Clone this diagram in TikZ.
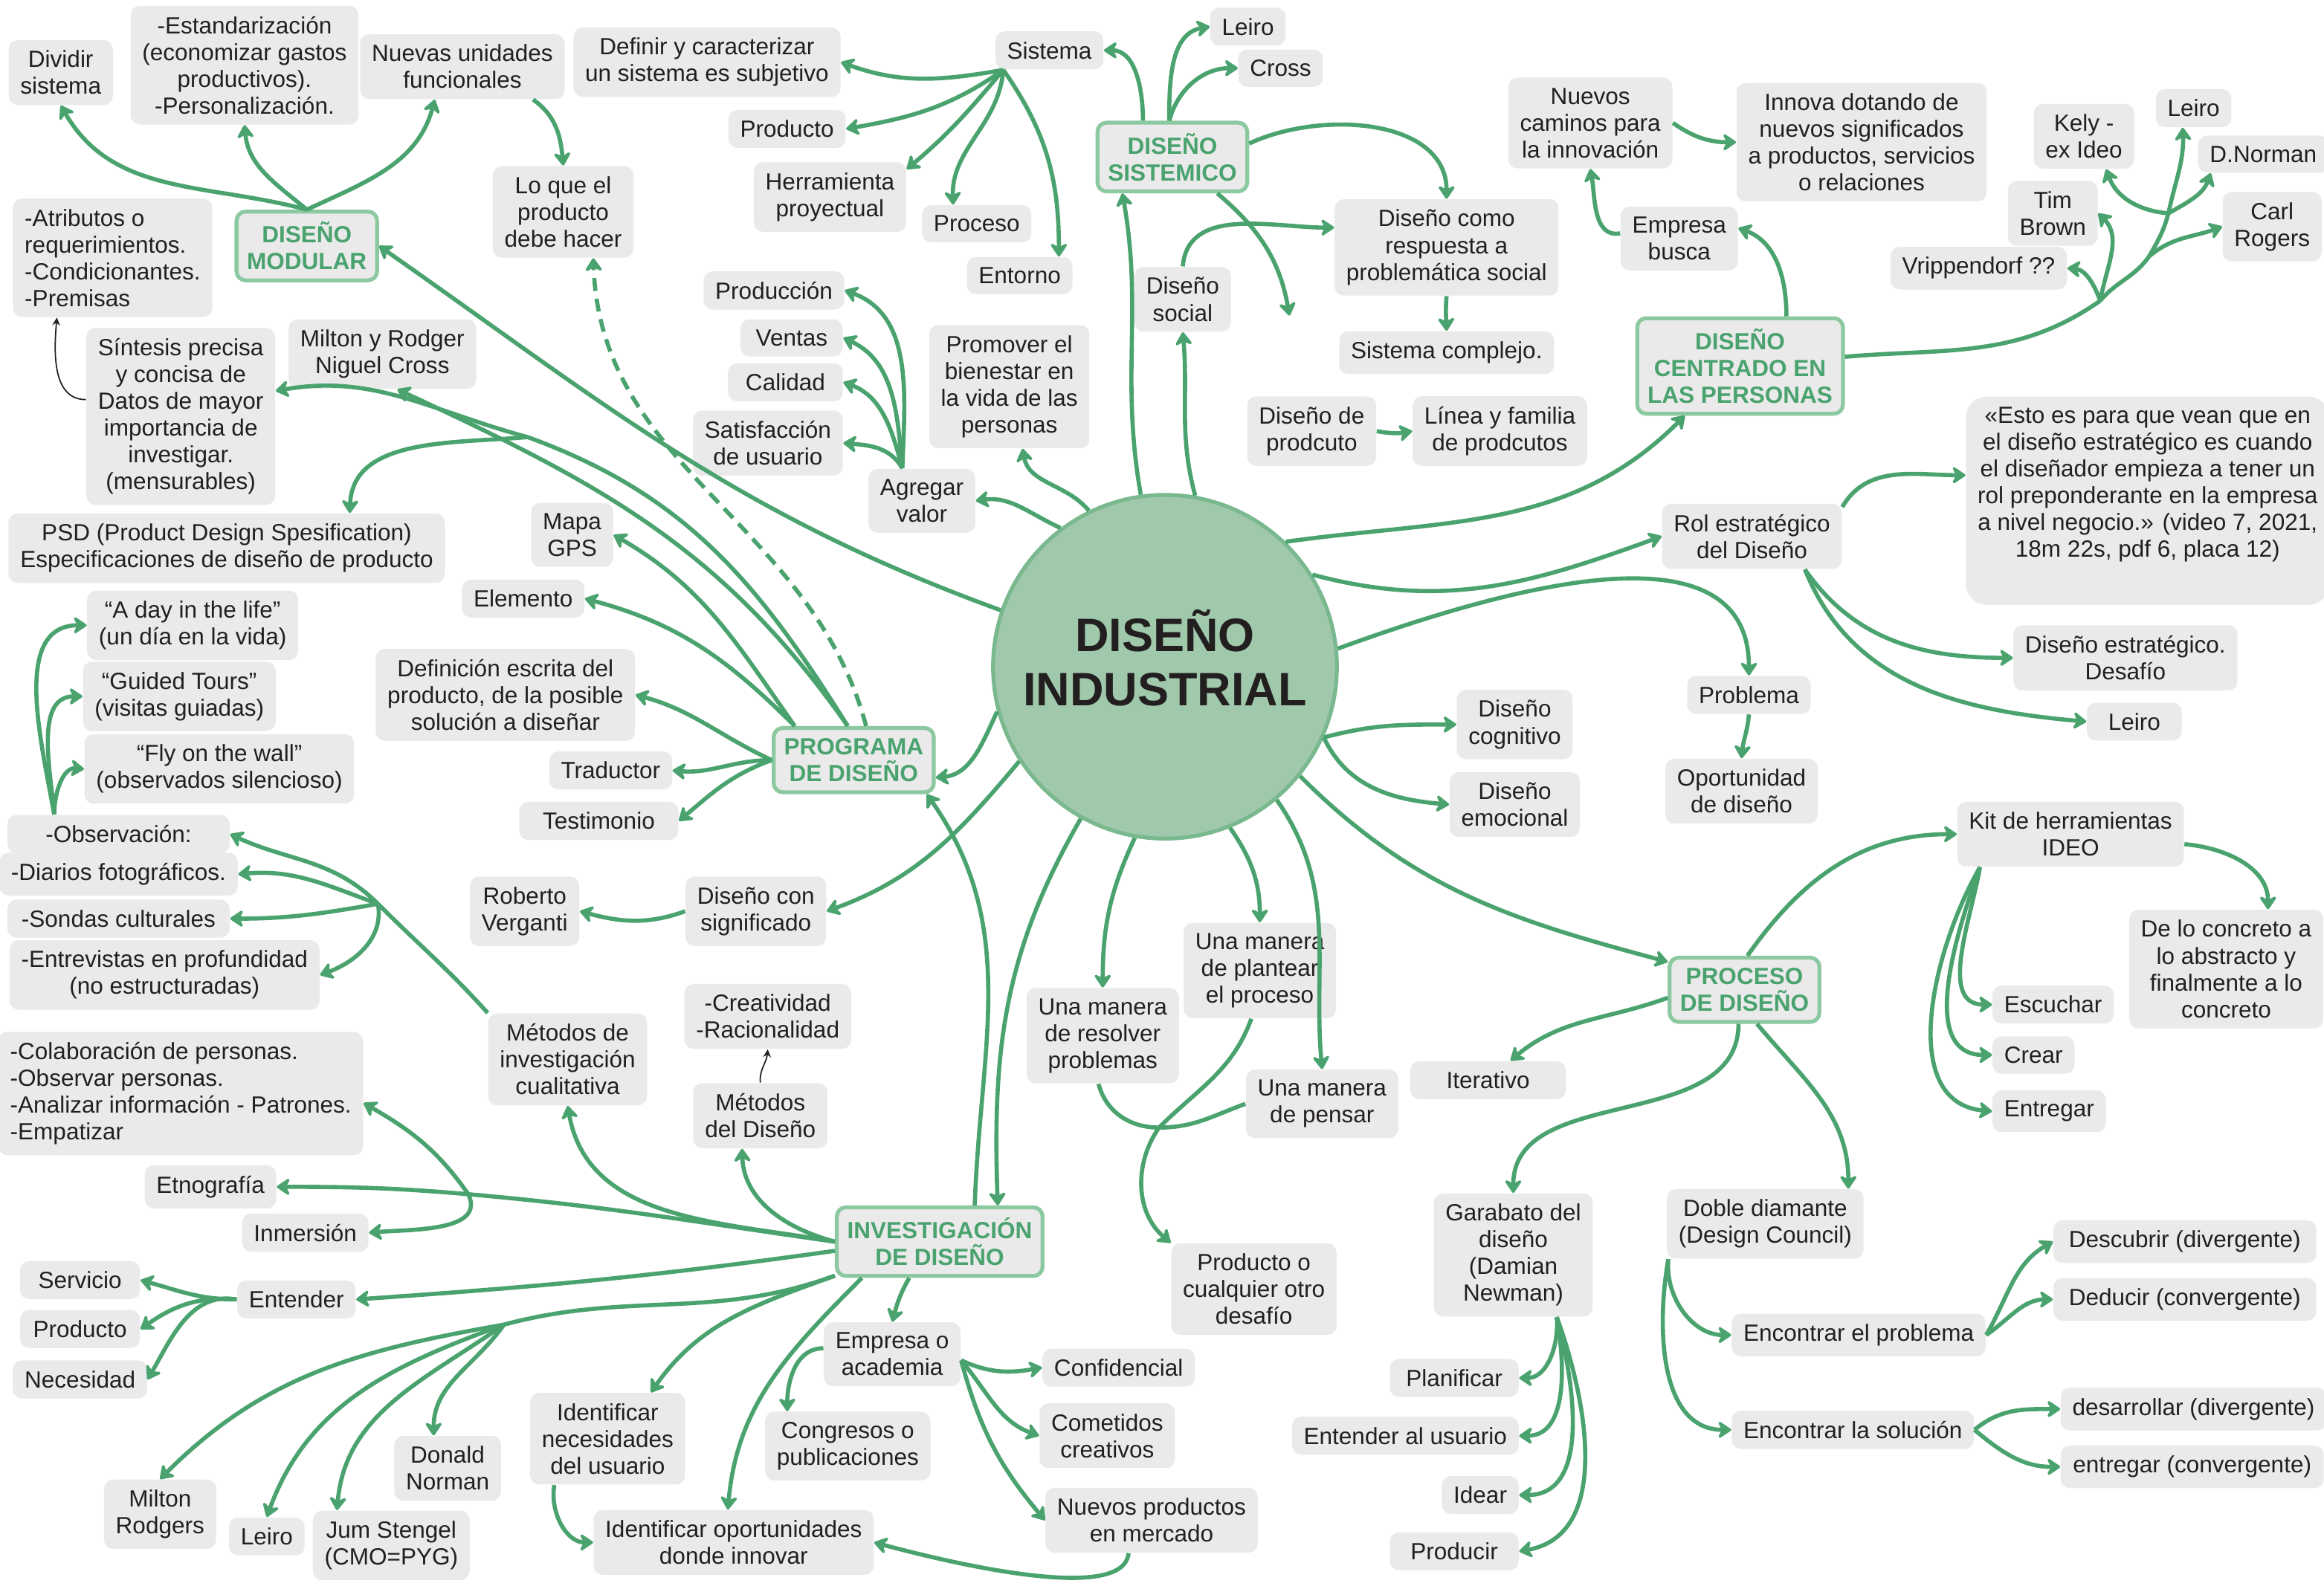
\documentclass[tikz,border=0pt]{standalone}
\usepackage{fontspec}
\setmainfont{Liberation Sans}
\usetikzlibrary{arrows.meta}
\definecolor{leaf}{RGB}{74,163,110}
\definecolor{hub}{RGB}{160,201,172}
\definecolor{hubedge}{RGB}{122,184,142}
\definecolor{card}{RGB}{234,234,235}
\definecolor{cardedge}{RGB}{140,200,160}
\definecolor{ink}{RGB}{35,31,32}

\begin{document}
\begin{tikzpicture}[x=0.02cm, y=0.02cm,
  box/.style={fill=card, text=ink, rounded corners=3.5pt, inner xsep=4.5pt, inner ysep=4pt, align=center, font=\fontsize{9}{10.3}\selectfont},
  cat/.style={box, draw=cardedge, line width=1.5pt, text=leaf, inner xsep=4pt, font=\bfseries\fontsize{9}{10.3}\selectfont},
  lnk/.style={draw=leaf, line width=1.6pt},
  arr/.style={lnk, -{Stealth[length=6pt,width=8pt,inset=2pt,round]}},
  note/.style={draw=ink, line width=0.5pt, -{Stealth[length=3pt,width=3pt]}}]
\useasboundingbox (0,0) rectangle (1568,1072);

\node[circle, fill=hub, draw=hubedge, line width=1.5pt, minimum size=4.64cm, inner sep=0pt] (ci) at (786,622) {};
\node[align=center, text=ink, font=\bfseries\fontsize{18}{21}\selectfont] (citext) at (786,628) {DISEÑO\\INDUSTRIAL};

\node[box] (dividir) at (41,1023) {Dividir\\sistema};
\node[box] (estand) at (165,1028) {-Estandarización\\(economizar gastos\\productivos).\\-Personalización.};
\node[box] (nuevasu) at (312,1027) {Nuevas unidades\\funcionales};
\node[box] (loque) at (380,929) {Lo que el\\producto\\debe hacer};
\node[cat] (dm) at (207,906) {DISEÑO\\MODULAR};
\node[box, align=left] (atrib) at (76,898) {-Atributos o\\requerimientos.\\-Condicionantes.\\-Premisas};
\node[box] (sintesis) at (122,791) {Síntesis precisa\\y concisa de\\Datos de mayor\\importancia de\\investigar.\\(mensurables)};
\node[box] (milton) at (258,833) {Milton y Rodger\\Niguel Cross};
\node[box] (psd) at (153,702) {PSD (Product Design Spesification)\\Especificaciones de diseño de producto};

\node[box] (definir) at (477,1030) {Definir y caracterizar\\un sistema es subjetivo};
\node[box] (sistema) at (708,1038) {Sistema};
\node[box] (producto1) at (531,985) {Producto};
\node[box] (herram) at (560,939) {Herramienta\\proyectual};
\node[box] (proceso) at (659,921) {Proceso};
\node[box] (entorno) at (688,886) {Entorno};
\node[box, anchor=east] (produccion) at (570,876) {Producción};
\node[box, anchor=east, minimum width=1.38cm] (ventas) at (569,844) {Ventas};
\node[box, anchor=east, minimum width=1.55cm] (calidad) at (569,814) {Calidad};
\node[box, anchor=east] (satisf) at (569,773) {Satisfacción\\de usuario};
\node[box] (agregar) at (622,734) {Agregar\\valor};
\node[box] (promover) at (681,811) {Promover el\\bienestar en\\la vida de las\\personas};

\node[cat] (ds) at (791,966) {DISEÑO\\SISTEMICO};
\node[box] (leiro1) at (842,1054) {Leiro};
\node[box] (cross) at (864,1026) {Cross};
\node[box] (dsocial) at (798,870) {Diseño\\social};
\node[box] (dcomo) at (976,905) {Diseño como\\respuesta a\\problemática social};
\node[box] (sistcomp) at (976,834) {Sistema complejo.};
\node[box] (dprod) at (885,781) {Diseño de\\prodcuto};
\node[box] (linea) at (1012,781) {Línea y familia\\de prodcutos};
\node[box] (nuevosc) at (1073,989) {Nuevos\\caminos para\\la innovación};
\node[box] (innova) at (1256,976) {Innova dotando de\\nuevos significados\\a productos, servicios\\o relaciones};
\node[box] (empresab) at (1133,911) {Empresa\\busca};
\node[cat] (dcp) at (1174,825) {DISEÑO\\CENTRADO EN\\LAS PERSONAS};
\node[box] (kely) at (1406,980) {Kely -\\ex Ideo};
\node[box] (leiro2) at (1480,999) {Leiro};
\node[box] (dnorman) at (1527,968) {D.Norman};
\node[box] (timb) at (1385,928) {Tim\\Brown};
\node[box] (carl) at (1533,919) {Carl\\Rogers};
\node[box] (vripp) at (1335,891) {Vrippendorf ??};

\node[box] (rol) at (1182,710) {Rol estratégico\\del Diseño};
\node[box, rounded corners=8pt] (quote) at (1449,734) {«Esto es para que vean que en\\el diseño estratégico es cuando\\el diseñador empieza a tener un\\rol preponderante en la empresa\\a nivel negocio.» (video 7, 2021,\\18m 22s, pdf 6, placa 12)\\[4pt]\mbox{}};
\node[box] (destrat) at (1434,628) {Diseño estratégico.\\Desafío};
\node[box, minimum width=1.28cm] (leiro3) at (1440,585) {Leiro};
\node[box] (problema) at (1180,603) {Problema};
\node[box] (oportun) at (1175,538) {Oportunidad\\de diseño};
\node[box] (dcog) at (1022,583) {Diseño\\cognitivo};
\node[box] (demo) at (1022,529) {Diseño\\emocional};

\node[box] (kit) at (1397,509) {Kit de herramientas\\IDEO};
\node[box] (concreto) at (1502,418) {De lo concreto a\\lo abstracto y\\finalmente a lo\\concreto};
\node[cat] (pdi) at (1177,404) {PROCESO\\DE DISEÑO};
\node[box, anchor=west] (escuchar) at (1344,394) {Escuchar};
\node[box, anchor=west] (crear) at (1344,360) {Crear};
\node[box, anchor=west] (entregar) at (1344,322) {Entregar};
\node[box, minimum width=2.1cm] (iterativo) at (1004,343) {Iterativo};
\node[box] (doble) at (1191,246) {Doble diamante\\(Design Council)};
\node[box] (garabato) at (1021,225) {Garabato del\\diseño\\(Damian\\Newman)};
\node[box, anchor=east, minimum width=1.74cm] (planificar) at (1025,142) {Planificar};
\node[box, anchor=east] (entusu) at (1025,103) {Entender al usuario};
\node[box, anchor=east] (idear) at (1025,63) {Idear};
\node[box, anchor=east, minimum width=1.74cm] (producir) at (1025,25) {Producir};
\node[box, anchor=west] (encprob) at (1168,171) {Encontrar el problema};
\node[box, anchor=west] (encsol) at (1168,107) {Encontrar la solución};
\node[box, anchor=west, minimum width=3.55cm] (descubrir) at (1385,234) {Descubrir (divergente)};
\node[box, anchor=west, minimum width=3.55cm] (deducir) at (1385,195) {Deducir (convergente)};
\node[box, anchor=west, minimum width=3.55cm] (desarr) at (1390,121) {desarrollar (divergente)};
\node[box, anchor=west, minimum width=3.55cm] (entregarc) at (1390,82) {entregar (convergente)};

\node[box] (plantear) at (850,417) {Una manera\\de plantear\\el proceso};
\node[box] (resolver) at (744,373) {Una manera\\de resolver\\problemas};
\node[box] (pensar) at (892,327) {Una manera\\de pensar};
\node[box] (prodcual) at (846,202) {Producto o\\cualquier otro\\desafío};

\node[cat] (pd) at (576,559) {PROGRAMA\\DE DISEÑO};
\node[box] (mapa) at (386,711) {Mapa\\GPS};
\node[box] (elemento) at (353,668) {Elemento};
\node[box] (defesc) at (341,603) {Definición escrita del\\producto, de la posible\\solución a diseñar};
\node[box] (traductor) at (412,552) {Traductor};
\node[box, minimum width=2.15cm] (testim) at (404,518) {Testimonio};
\node[box] (dcs) at (510,457) {Diseño con\\significado};
\node[box] (verganti) at (354,457) {Roberto\\Verganti};

\node[box] (aday) at (130,650) {“A day in the life”\\(un día en la vida)};
\node[box] (guided) at (121,602) {“Guided Tours”\\(visitas guiadas)};
\node[box] (fly) at (148,553) {“Fly on the wall”\\(observados silencioso)};
\node[box, minimum width=3cm] (observ) at (80,509) {-Observación:};
\node[box, minimum width=3cm] (diarios) at (80,482) {-Diarios fotográficos.};
\node[box, minimum width=3cm] (sondas) at (80,452) {-Sondas culturales};
\node[box] (entrev) at (111,414) {-Entrevistas en profundidad\\(no estructuradas)};
\node[box] (metcual) at (383,357) {Métodos de\\investigación\\cualitativa};
\node[box] (creat) at (518,386) {-Creatividad\\-Racionalidad};
\node[box] (metdis) at (513,319) {Métodos\\del Diseño};
\node[box, align=left] (colab) at (122,334) {-Colaboración de personas.\\-Observar personas.\\-Analizar información - Patrones.\\-Empatizar};
\node[box] (etno) at (142,271) {Etnografía};
\node[box] (inmer) at (206,240) {Inmersión};
\node[box, minimum width=1.62cm] (servicio) at (54,208) {Servicio};
\node[box, minimum width=1.62cm] (producto2) at (54,175) {Producto};
\node[box, minimum width=1.62cm] (necesidad) at (54,141) {Necesidad};
\node[box] (entender) at (200,195) {Entender};
\node[cat] (id) at (634,234) {INVESTIGACIÓN\\DE DISEÑO};
\node[box] (miltonr) at (108,50) {Milton\\Rodgers};
\node[box] (leiro4) at (180,35) {Leiro};
\node[box] (jum) at (264,29) {Jum Stengel\\(CMO=PYG)};
\node[box] (donald) at (302,81) {Donald\\Norman};
\node[box] (identnec) at (410,101) {Identificar\\necesidades\\del usuario};
\node[box] (identop) at (495,31) {Identificar oportunidades\\donde innovar};
\node[box] (empresao) at (602,158) {Empresa o\\academia};
\node[box] (congresos) at (572,96) {Congresos o\\publicaciones};
\node[box, anchor=west] (confid) at (703,149) {Confidencial};
\node[box, anchor=west] (cometidos) at (701,103) {Cometidos\\creativos};
\node[box, anchor=west] (nuevosp) at (705,46) {Nuevos productos\\en mercado};

\coordinate (dsend) at (870,859);
\coordinate (fsin) at (356,777);
\coordinate (fppl1) at (1417,869);
\coordinate (fppl2) at (1450,899);
\coordinate (fppl3) at (1463,928);
\coordinate (fobs) at (255,462);
\coordinate (fetn) at (316,266);
\coordinate (fpeople) at (340,178);
\coordinate (fmeet) at (782,311);

\draw[arr] (ci.161) to[out=160,in=-35] (dm.east);
\draw[arr] (dm.north) to[out=165,in=-60] (dividir.south);
\draw[arr] (dm.north) to[out=140,in=-85] (estand.south);
\draw[arr] (dm.north) to[out=25,in=-105] (nuevasu.-130);
\draw[arr] (nuevasu.-25) to[out=-35,in=95] (loque.north);
\draw[arr, dash pattern=on 5pt off 3pt] (pd.70) to[out=105,in=-88] (loque.-57);
\draw[note] (sintesis.170) to[out=180,in=-95] (atrib.-133);

\draw[arr] (ci.195) to[out=245,in=5] (pd.-12);
\draw[arr] (ci.213) to[out=230,in=20] (dcs.east);
\draw[arr] (ci.241) to[out=240,in=92] (id.32);
\draw[arr] (id.46) to[out=88,in=-55] (pd.-25);
\draw[arr] (pd.west) to[out=155,in=-15] (defesc.east);
\draw[arr] (pd.west) to[out=180,in=-5] (traductor.east);
\draw[arr] (pd.west) to[out=200,in=40] (testim.east);
\draw[arr] (pd.150) to[out=125,in=-30] (mapa.east);
\draw[arr] (pd.150) to[out=135,in=-15] (elemento.east);
\draw[arr] (pd.100) to[out=125,in=-25] (milton.-67);
\draw[lnk] (pd.100) to[out=122,in=-20] (fsin);
\draw[arr] (fsin) to[out=165,in=10] (sintesis.15);
\draw[arr] (fsin) to[out=185,in=88] (psd.16);
\draw[arr] (dcs.west) to[out=200,in=-15] (verganti.east);

\draw[arr] (sistema.-157) to[out=190,in=-20] (definir.east);
\draw[arr] (sistema.-157) to[out=215,in=10] (producto1.east);
\draw[arr] (sistema.-157) to[out=230,in=40] (herram.20);
\draw[arr] (sistema.-157) to[out=-95,in=92] (proceso.141);
\draw[arr] (sistema.-157) to[out=-55,in=90] (entorno.26);

\draw[arr] (ci.98) to[out=100,in=-80] (ds.-144);
\draw[arr] (ds.129) to[out=90,in=0] (sistema.east);
\draw[arr] (ds.95) to[out=90,in=190] (leiro1.west);
\draw[arr] (ds.95) to[out=75,in=180] (cross.west);
\draw[arr] (ds.10) to[out=25,in=90] (dcomo.north);
\draw[arr] (ds.-39) to[out=-40,in=100] (dsend);
\draw[arr] (ci.80) to[out=105,in=-85] (dsocial.south);
\draw[arr] (dsocial.north) to[out=85,in=180] (dcomo.170);
\draw[arr] (dcomo.south) to[out=-95,in=92] (sistcomp.north);
\draw[arr] (dprod.east) to[out=-10,in=190] (linea.west);

\draw[arr] (ci.127) to[out=155,in=8] (agregar.east);
\draw[arr] (ci.116) to[out=130,in=-80] (promover.-78);
\draw[arr] (agregar.121) to[out=88,in=-20] (produccion.east);
\draw[arr] (agregar.121) to[out=95,in=-25] (ventas.east);
\draw[arr] (agregar.121) to[out=105,in=-20] (calidad.east);
\draw[arr] (agregar.121) to[out=120,in=-5] (satisf.east);

\draw[arr] (ci.46) to[out=8,in=-135] (dcp.-138);
\draw[arr] (dcp.47) to[out=90,in=-20] (empresab.10);
\draw[arr] (empresab.175) to[out=190,in=-80] (nuevosc.south);
\draw[arr] (nuevosc.east) to[out=-35,in=180] (innova.west);
\draw[lnk] (dcp.5) to[out=5,in=215] (fppl1);
\draw[arr] (fppl1) to[out=110,in=-5] (vripp.east);
\draw[arr] (fppl1) to[out=80,in=-45] (timb.east);
\draw[lnk] (fppl1) to[out=50,in=235] (fppl2);
\draw[arr] (fppl2) to[out=40,in=200] (carl.west);
\draw[lnk] (fppl2) to[out=60,in=255] (fppl3);
\draw[arr] (fppl3) to[out=30,in=-110] (dnorman.-160);
\draw[arr] (fppl3) to[out=175,in=-70] (kely.-56);
\draw[arr] (fppl3) to[out=78,in=-88] (leiro2.-119);

\draw[arr] (ci.32) to[out=-15,in=200] (rol.west);
\draw[arr] (rol.18) to[out=60,in=180] (quote.172);
\draw[arr] (rol.-32) to[out=-55,in=180] (destrat.west);
\draw[arr] (rol.-32) to[out=-68,in=175] (leiro3.west);
\draw[arr] (ci.6) to[out=20,in=90] (problema.north);
\draw[arr] (problema.south) to[out=-95,in=85] (oportun.north);
\draw[arr] (ci.-24) to[out=15,in=180] (dcog.west);
\draw[arr] (ci.-24) to[out=-65,in=175] (demo.west);

\draw[arr] (ci.-39) to[out=-45,in=165] (pdi.160);
\draw[arr] (pdi.85) to[out=55,in=180] (kit.west);
\draw[arr] (kit.-5) to[out=-5,in=90] (concreto.55);
\draw[arr] (kit.-160) to[out=-100,in=180] (escuchar.west);
\draw[arr] (kit.-160) to[out=-110,in=180] (crear.west);
\draw[arr] (kit.-160) to[out=-120,in=175] (entregar.west);
\draw[arr] (pdi.-174) to[out=200,in=40] (iterativo.41);
\draw[arr] (pdi.-100) to[out=-90,in=90] (garabato.north);
\draw[arr] (pdi.-70) to[out=-50,in=90] (doble.23);
\draw[arr] (garabato.-55) to[out=-85,in=0] (planificar.east);
\draw[arr] (garabato.-55) to[out=-80,in=0] (entusu.east);
\draw[arr] (garabato.-55) to[out=-75,in=0] (idear.east);
\draw[arr] (garabato.-55) to[out=-70,in=10] (producir.east);
\draw[arr] (doble.-160) to[out=-95,in=180] (encprob.west);
\draw[arr] (doble.-160) to[out=-100,in=180] (encsol.west);
\draw[arr] (encprob.east) to[out=60,in=210] (descubrir.west);
\draw[arr] (encprob.east) to[out=35,in=180] (deducir.west);
\draw[arr] (encsol.east) to[out=40,in=180] (desarr.west);
\draw[arr] (encsol.east) to[out=-40,in=180] (entregarc.west);

\draw[arr] (ci.-68) to[out=-55,in=90] (plantear.north);
\draw[arr] (ci.-100) to[out=-115,in=90] (resolver.north);
\draw[arr] (ci.-50) to[out=-55,in=95] (pensar.north);
\draw[lnk] (resolver.-95) to[out=-75,in=180] (fmeet);
\draw[lnk] (pensar.west) to[out=200,in=0] (fmeet);
\draw[lnk] (plantear.-100) to[out=-110,in=45] (fmeet);
\draw[arr] (fmeet) to[out=235,in=140] (prodcual.north west);

\draw[lnk] (metcual.north west) to[out=132,in=-45] (fobs);
\draw[arr] (fobs) to[out=135,in=-25] (observ.east);
\draw[arr] (fobs) to[out=160,in=5] (diarios.east);
\draw[arr] (fobs) to[out=190,in=0] (sondas.east);
\draw[arr] (fobs) to[out=-80,in=20] (entrev.east);
\draw[arr] (observ.163) to[out=100,in=180] (aday.west);
\draw[arr] (observ.163) to[out=95,in=180] (guided.west);
\draw[arr] (observ.163) to[out=90,in=175] (fly.west);

\draw[arr] (id.west) to[out=170,in=-80] (metcual.south);
\draw[arr] (id.west) to[out=165,in=-88] (metdis.-119);
\draw[note] (metdis.north) to[out=95,in=-95] (creat.south);
\draw[lnk] (id.west) to[out=172,in=-5] (fetn);
\draw[arr] (fetn) to[out=125,in=-30] (colab.-3);
\draw[arr] (fetn) to[out=175,in=0] (etno.east);
\draw[arr] (fetn) to[out=-65,in=5] (inmer.east);
\draw[arr] (id.-175) to[out=188,in=4] (entender.east);
\draw[arr] (entender.west) to[out=180,in=-15] (servicio.east);
\draw[arr] (entender.west) to[out=175,in=35] (producto2.east);
\draw[arr] (entender.west) to[out=170,in=60] (necesidad.east);
\draw[lnk] (id.-162) to[out=200,in=15] (fpeople);
\draw[arr] (fpeople) to[out=190,in=45] (miltonr.north);
\draw[arr] (fpeople) to[out=200,in=70] (leiro4.north);
\draw[arr] (fpeople) to[out=215,in=85] (jum.147);
\draw[arr] (fpeople) to[out=235,in=90] (donald.113);

\draw[arr] (id.-162) to[out=200,in=55] (identnec.47);
\draw[arr] (id.-155) to[out=225,in=85] (identop.100);
\draw[arr] (identnec.-139) to[out=-100,in=180] (identop.west);
\draw[arr] (id.-130) to[out=-120,in=75] (empresao.north);
\draw[arr] (empresao.175) to[out=180,in=90] (congresos.150);
\draw[arr] (empresao.-5) to[out=-25,in=190] (confid.west);
\draw[arr] (empresao.-5) to[out=-50,in=160] (cometidos.west);
\draw[arr] (empresao.-5) to[out=-75,in=130] (nuevosp.west);
\draw[arr] (nuevosp.-125) to[out=-95,in=-15,looseness=0.55] (identop.east);
\end{tikzpicture}
\end{document}
